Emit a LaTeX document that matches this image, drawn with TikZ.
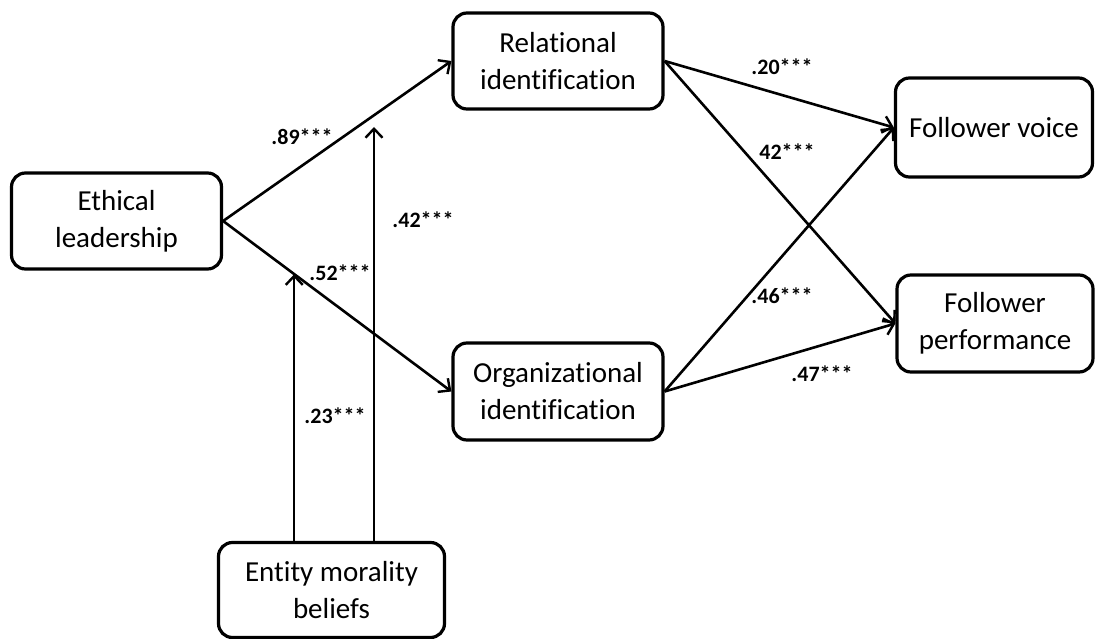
\documentclass[tikz,border=0pt]{standalone}
\usepackage{fontspec}
\setmainfont{Carlito}[Ligatures=CommonOff]
\usetikzlibrary{arrows.meta,calc}
\begin{document}
\begin{tikzpicture}[x=1pt,y=-1pt,
  box/.style={draw=black,line width=3.2pt,rounded corners=14pt,align=center,
    font=\fontsize{29}{37}\selectfont,inner sep=0pt},
  conn/.style={line width=2.6pt,-{Straight Barb[length=9pt,width=17pt,line width=2.4pt]}},
  lbl/.style={font=\fontsize{22}{26}\selectfont\bfseries,inner sep=0pt}]
\useasboundingbox (0,0) rectangle (1095,639);
\node[box,minimum width=210pt,minimum height=96pt] (eth) at (116.5,221) {Ethical\\leadership};
\node[box,minimum width=210pt,minimum height=96pt] (rel) at (558,61) {Relational\\identification};
\node[box,minimum width=210pt,minimum height=97pt] (org) at (558,391.5) {Organizational\\identification};
\node[box,minimum width=197pt,minimum height=99pt] (voi) at (994,127.5) {Follower voice};
\node[box,minimum width=196pt,minimum height=97pt] (per) at (995,323.5) {Follower\\performance};
\node[box,minimum width=226pt,minimum height=95pt] (ent) at (331.5,590) {Entity morality\\beliefs};

\draw[conn] (eth.east) -- (rel.west);
\draw[conn] (eth.east) -- (org.west);
\draw[conn] (rel.east) -- (voi.west);
\draw[conn] (rel.east) -- (per.west);
\draw[conn] (org.east) -- (voi.west);
\draw[conn] (org.east) -- (per.west);

\coordinate (m1) at ($(eth.east)!0.3117!(org.west)$);
\coordinate (m2) at (374,127);
\draw[conn,line width=2.2pt] (ent.north -| m1) -- (m1);
\draw[conn,line width=2.2pt] (ent.north -| m2) -- (m2);

\node[lbl] (l89) at (302,137) {.89***};
\node[lbl] (l42) at (423,220) {.42***};
\node[lbl] (l52) at (340,273) {.52***};
\node[lbl] (l23) at (335,416) {.23***};
\node[lbl] (l20) at (782,67) {.20***};
\node[lbl] (l42b) at (787,152) {42***};
\node[lbl] (l46) at (782,296) {.46***};
\node[lbl] (l47) at (822,374) {.47***};
\end{tikzpicture}
\end{document}
